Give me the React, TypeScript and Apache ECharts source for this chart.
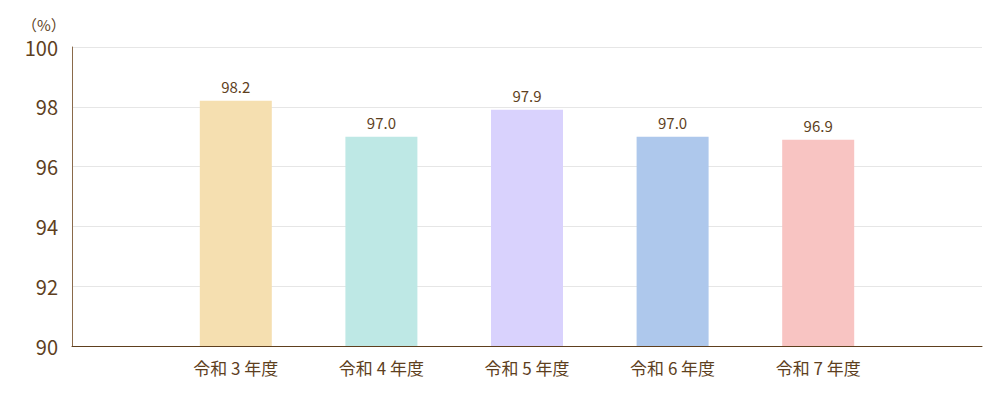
import React, { useEffect, useRef } from "react";
import * as echarts from "echarts";

const categories = ["令和 3 年度", "令和 4 年度", "令和 5 年度", "令和 6 年度", "令和 7 年度"];
const values = [98.2, 97.0, 97.9, 97.0, 96.9];
const barColors = ["#F5DFB0", "#BEE8E5", "#D9D2FD", "#AEC8EC", "#F8C4C2"];
const yTicks = [90, 92, 94, 96, 98, 100];
const unitLabel = "（%）";

const BROWN = "#5E3F1E";
const FONT = "'Noto Sans CJK JP', 'Noto Sans', sans-serif";

export default function App() {
  const ref = useRef<HTMLDivElement>(null);
  useEffect(() => {
    if (!ref.current) return;
    const chart = echarts.init(ref.current, undefined, { renderer: "svg" });
    chart.setOption({
      animation: false,
      textStyle: { fontFamily: FONT },
      graphic: [
        {
          type: "text",
          left: 22,
          top: 17,
          style: { text: unitLabel, fill: BROWN, fontSize: 15, fontFamily: FONT },
        },
      ],
      grid: [
        { left: 72, right: 18, top: 47, bottom: 54 },
        { left: 163, right: 109, top: 47, bottom: 54 },
      ],
      xAxis: [
        {
          gridIndex: 0,
          type: "category",
          data: [""],
          axisLine: { lineStyle: { color: BROWN, width: 1 } },
          axisTick: { show: false },
          axisLabel: { show: false },
        },
        {
          gridIndex: 1,
          type: "category",
          data: categories,
          axisLine: { show: false },
          axisTick: { show: false },
          axisLabel: { color: BROWN, fontSize: 17, margin: 13, fontFamily: FONT },
        },
      ],
      yAxis: [
        {
          gridIndex: 0,
          type: "value",
          min: yTicks[0],
          max: yTicks[yTicks.length - 1],
          interval: 2,
          axisLine: { show: true, lineStyle: { color: "#8A6A4A", width: 1 } },
          axisTick: { show: false },
          axisLabel: { color: BROWN, fontSize: 20, margin: 14 },
          splitLine: { lineStyle: { color: "#E6E6E6", width: 1 } },
        },
        {
          gridIndex: 1,
          type: "value",
          min: yTicks[0],
          max: yTicks[yTicks.length - 1],
          interval: 2,
          show: false,
          splitLine: { show: false },
        },
      ],
      series: [
        {
          type: "bar",
          xAxisIndex: 1,
          yAxisIndex: 1,
          barWidth: 72,
          data: values.map((v, i) => ({
            value: v,
            itemStyle: { color: barColors[i] },
          })),
          label: {
            show: true,
            position: "top",
            distance: 7,
            color: BROWN,
            fontSize: 15,
            formatter: (p: any) => Number(p.value).toFixed(1),
          },
        },
      ],
    });
    return () => chart.dispose();
  }, []);
  return (
    <div style={{ position: "fixed", left: 0, top: 0, width: 1000, height: 400, background: "#fff" }}>
      <div ref={ref} style={{ width: 1000, height: 400 }} />
    </div>
  );
}
